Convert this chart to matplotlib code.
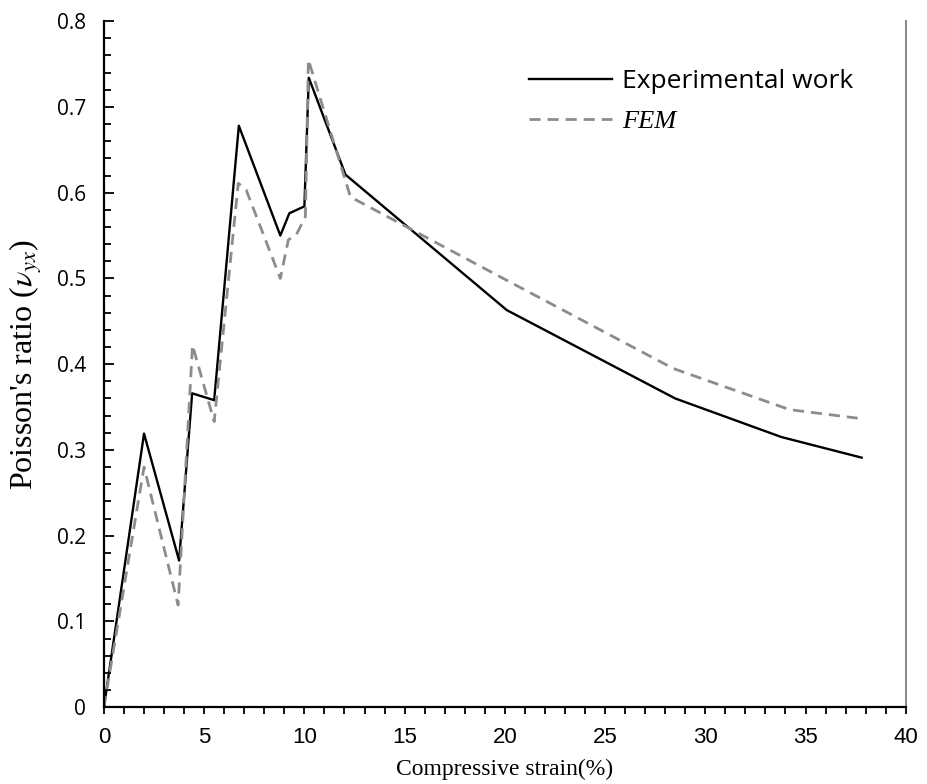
import numpy as np
import matplotlib
matplotlib.use('Agg')
import matplotlib.pyplot as plt
from matplotlib.ticker import MultipleLocator, FuncFormatter

plt.rcParams['mathtext.fontset'] = 'stix'

# Curva experimental
exp_x = [0, 2.0, 3.75, 4.4, 5.5, 6.73, 8.8, 9.25, 10.0, 10.22, 12.05, 20.1, 28.5, 33.8, 37.8]
exp_y = [0, 0.319, 0.171, 0.366, 0.358, 0.678, 0.550, 0.576, 0.584, 0.734, 0.621, 0.463, 0.360, 0.315, 0.291]

# Curva del modelo FEM
fem_x = [0, 2.0, 3.7, 4.42, 5.5, 6.7, 7.1, 8.8, 9.2, 9.6, 10.05, 10.2, 12.3, 20.4, 28.4, 34.2, 37.6]
fem_y = [0, 0.280, 0.119, 0.422, 0.333, 0.611, 0.603, 0.500, 0.545, 0.551, 0.572, 0.755, 0.595, 0.494, 0.395, 0.347, 0.337]

fig = plt.figure(figsize=(9.28, 7.84), dpi=100)
ax = fig.add_axes([0.112, 0.098, 0.864, 0.875])

ax.plot(exp_x, exp_y, color='black', lw=1.7, label='Experimental work')
ax.plot(fem_x, fem_y, color='#8c8c8c', lw=2.0, ls=(0, (4, 2.5)), label='FEM')

ax.set_xlim(0, 40)
ax.set_ylim(0, 0.8)

# Ejes: izquierdo y abajo en negro, derecho gris
ax.spines['top'].set_visible(False)
ax.spines['right'].set_color('#8c8c8c')
ax.spines['right'].set_linewidth(1.5)
ax.spines['left'].set_linewidth(1.6)
ax.spines['bottom'].set_linewidth(1.6)

ax.xaxis.set_major_locator(MultipleLocator(5))
ax.xaxis.set_minor_locator(MultipleLocator(1))
ax.yaxis.set_major_locator(MultipleLocator(0.1))
ax.yaxis.set_minor_locator(MultipleLocator(0.02))
ax.tick_params(axis='x', which='both', direction='out', length=5, width=1.3, pad=9)
ax.tick_params(axis='y', which='major', direction='in', length=7, width=1.3, pad=13)
ax.tick_params(axis='y', which='minor', direction='in', length=5, width=1.3)
ax.tick_params(axis='y', right=False, which='both')

ax.yaxis.set_major_formatter(FuncFormatter(lambda v, p: '0' if abs(v) < 1e-9 else '%.1f' % v))

for lab in ax.get_xticklabels():
    lab.set_fontfamily(['Liberation Sans Narrow', 'Liberation Sans'])
    lab.set_fontsize(16)
for lab in ax.get_yticklabels():
    lab.set_fontfamily('Open Sans')
    lab.set_fontsize(15)

ax.set_xlabel('Compressive strain(%)', family='Liberation Serif', fontsize=17, labelpad=8)
ax.set_ylabel("Poisson's ratio ($\\nu_{yx}$)", family='Liberation Serif', fontsize=23, labelpad=9)

leg = ax.legend(loc='upper left', bbox_to_anchor=(0.5, 0.965), frameon=False,
                handlelength=3.15, handletextpad=0.38, labelspacing=0.6,
                prop={'family': 'Open Sans', 'size': 19})
t_fem = leg.get_texts()[1]
t_fem.set_fontfamily('Liberation Serif')
t_fem.set_style('italic')
t_fem.set_fontsize(19)

fig.savefig('out.png', dpi=100)
